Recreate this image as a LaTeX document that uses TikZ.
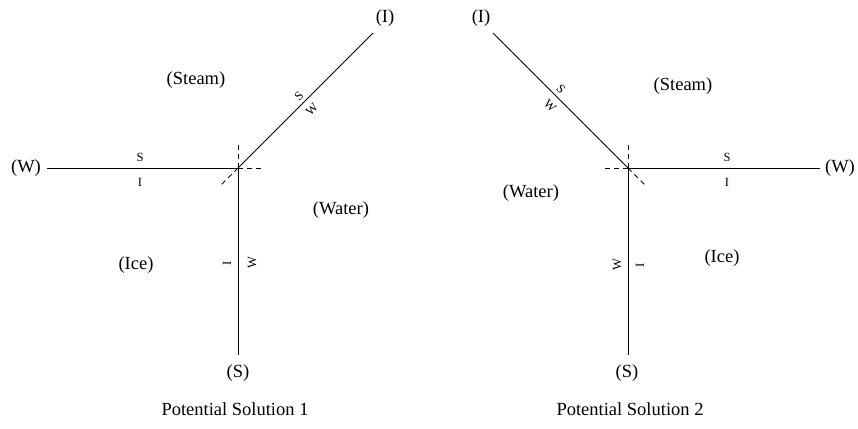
\documentclass[tikz,border=0pt]{standalone}
\usepackage{fontspec}
\setmainfont{Liberation Serif}
\begin{document}
\begin{tikzpicture}[x=1pt,y=-1pt,
  big/.style={font=\fontsize{18.5}{20}\selectfont, inner sep=0pt},
  small/.style={font=\fontsize{12.5}{14}\selectfont, inner sep=0pt},
  phase/.style={line width=0.9pt},
  ext/.style={line width=0.8pt, dash pattern=on 5pt off 4pt}]
\useasboundingbox (0,0) rectangle (858,428);
% ---------- Solution 1 ----------
\coordinate (c1) at (238,168);
\coordinate (w1) at (47,168);
\coordinate (s1) at (238,355);
\coordinate (i1) at (373,33);
\coordinate (du1) at (238,145);
\coordinate (dr1) at (262,168);
\coordinate (dd1) at (221,185);
\draw[phase] (w1) -- (c1) -- (s1);
\draw[phase] (c1) -- (i1);
\draw[ext] (c1) -- (du1);
\draw[ext] (c1) -- (dr1);
\draw[ext] (c1) -- (dd1);
\node[big] (lw1) at (26,168) {(W)};
\node[big] (ls1) at (238,373) {(S)};
\node[big] (li1) at (385,18) {(I)};
\node[big] (steam1) at (196,80) {(Steam)};
\node[big] (water1) at (341,210) {(Water)};
\node[big] (ice1) at (136,265) {(Ice)};
\node[small] (hs1) at (140,157) {S};
\node[small] (hi1) at (140,182) {I};
\node[small, rotate=90] (vi1) at (227,263) {I};
\node[small, rotate=90] (vw1) at (252,263) {W};
\node[small, rotate=45] (ds1) at (299,96) {S};
\node[small, rotate=45] (dw1) at (312,110) {W};
\node[big] (cap1) at (235,409) {Potential Solution 1};
% ---------- Solution 2 ----------
\coordinate (c2) at (628,168);
\coordinate (w2) at (820,168);
\coordinate (s2) at (628,355);
\coordinate (i2) at (493,33);
\coordinate (du2) at (628,145);
\coordinate (dl2) at (604,168);
\coordinate (dd2) at (645,185);
\draw[phase] (w2) -- (c2) -- (s2);
\draw[phase] (c2) -- (i2);
\draw[ext] (c2) -- (du2);
\draw[ext] (c2) -- (dl2);
\draw[ext] (c2) -- (dd2);
\node[big] (lw2) at (840,168) {(W)};
\node[big] (ls2) at (627,373) {(S)};
\node[big] (li2) at (481,18) {(I)};
\node[big] (steam2) at (683,86) {(Steam)};
\node[big] (water2) at (531,193) {(Water)};
\node[big] (ice2) at (722,258) {(Ice)};
\node[small] (hs2) at (727,157) {S};
\node[small] (hi2) at (727,182) {I};
\node[small, rotate=90] (vw2) at (617,265) {W};
\node[small, rotate=90] (vi2) at (640,265) {I};
\node[small, rotate=-45] (ds2) at (561,89) {S};
\node[small, rotate=-45] (dw2) at (550,106) {W};
\node[big] (cap2) at (630,409) {Potential Solution 2};
\end{tikzpicture}
\end{document}
